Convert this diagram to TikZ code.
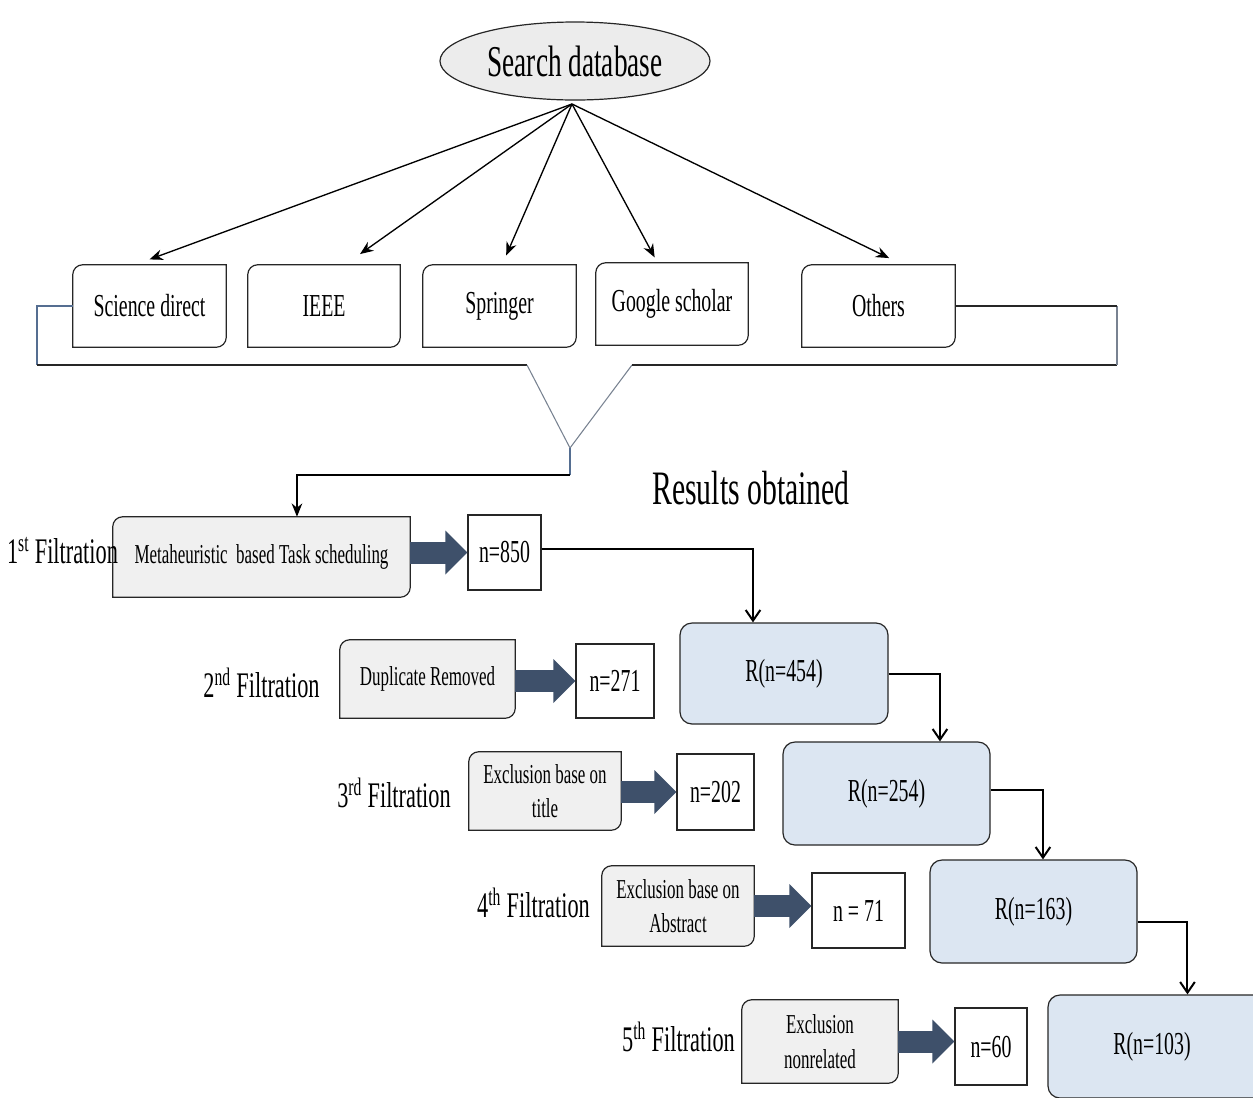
\documentclass[tikz,border=0pt]{standalone}
\usepackage{fontspec}
\setmainfont{Liberation Serif}[FakeStretch=0.62]
\usetikzlibrary{shapes.geometric,arrows.meta,backgrounds}
\definecolor{ellfill}{RGB}{236,236,236}
\definecolor{greyfill}{RGB}{240,240,240}
\definecolor{bluefill}{RGB}{220,230,242}
\definecolor{bigarrow}{RGB}{62,80,106}
\definecolor{bracketc}{RGB}{85,110,145}
\definecolor{vcol}{RGB}{120,130,145}
\newcommand{\diagframe}[2]{%
  \draw[boxline, fill=#2] ([xshift=7.5pt]#1.north west) -- (#1.north east)
    -- ([yshift=7.5pt]#1.south east) arc[start angle=0, end angle=-90, radius=7.5pt]
    -- (#1.south west) -- ([yshift=-7.5pt]#1.north west)
    arc[start angle=180, end angle=90, radius=7.5pt] -- cycle;}
\begin{document}
\begin{tikzpicture}[x=0.75pt,y=0.75pt,
  boxline/.style={draw=black!85, line width=0.9pt},
  ell/.style={ellipse, boxline, fill=ellfill, minimum width=202.5pt, minimum height=58.5pt, inner sep=0pt, font=\fontsize{33}{36}\selectfont},
  dbbox/.style={minimum height=61.5pt, inner sep=0pt, font=\fontsize{24}{28}\selectfont},
  gbox/.style={inner sep=0pt, align=center, font=\fontsize{20.5}{26}\selectfont},
  nbox/.style={boxline, fill=white, inner sep=0pt, font=\fontsize{24}{28}\selectfont},
  rbox/.style={boxline, fill=bluefill, rounded corners=9pt, inner sep=0pt, minimum width=155.25pt, minimum height=77.25pt, font=\fontsize{24}{28}\selectfont},
  fl/.style={inner sep=0pt, font=\fontsize{27}{30}\selectfont},
  thinarrow/.style={draw=black, line width=1pt, -{Stealth[length=10pt,width=8pt]}},
  bigarr/.style={draw=bigarrow, line width=16.5pt, -{Triangle[length=16.5pt,width=32pt]}},
  rconn/.style={draw=black, line width=1.5pt, -{Straight Barb[length=8pt,width=11pt]}},
  brk/.style={draw=bracketc, line width=0.8pt},
  vline/.style={draw=vcol, line width=0.8pt},
  hline/.style={draw=black!85, line width=1pt}
]
\useasboundingbox (0,0) rectangle (1253,-1097);

% search database
\node[ell] (search) at (575,-61) {Search database};
\coordinate (hub) at (572,-104);

% databases
\node[dbbox, minimum width=114.75pt] (sd) at (149.5,-306) {Science direct};
\node[dbbox, minimum width=114pt] (ieee) at (324,-306) {IEEE};
\node[dbbox, minimum width=114.75pt] (spr) at (499.5,-306) {Springer};
\node[dbbox, minimum width=114pt] (gs) at (672,-304) {Google scholar};
\node[dbbox, minimum width=114.75pt] (oth) at (878.5,-306) {Others};

\draw[thinarrow] (hub) -- ([yshift=4pt]sd.north);
\draw[thinarrow] (hub) -- ([xshift=27pt,yshift=8pt]ieee.north);
\draw[thinarrow] (hub) -- ([xshift=5pt,yshift=7pt]spr.north);
\draw[thinarrow] (hub) -- ([xshift=-13pt,yshift=4pt]gs.north);
\draw[thinarrow] (hub) -- ([xshift=8pt,yshift=5pt]oth.north);

% bracket and funnel
\coordinate (vtip) at (570,-448);
\coordinate (elbow) at (570,-475);
\draw[brk] (sd.west) -- (37,-306) -- (37,-365);
\draw[hline] (37,-365) -- (527,-365);
\draw[vline] (527,-365) -- (vtip) -- (632,-365);
\draw[hline] (632,-365) -- (1117,-365);
\draw[vline] (1117,-365) -- (1117,-306);
\draw[hline] (1117,-306) -- (oth.east);

% results title
\node[font=\fontsize{36}{40}\selectfont, inner sep=0pt] (res) at (751,-488) {Results obtained};

% grey boxes
\node[gbox, minimum width=222.75pt, minimum height=60pt] (meta) at (261.5,-557) {Metaheuristic\ \ based Task scheduling};
\node[gbox, minimum width=131.25pt, minimum height=58.5pt] (dup) at (427.5,-679) {Duplicate Removed};
\node[gbox, minimum width=114pt, minimum height=58.5pt] (ex1) at (545,-791) {Exclusion base on\\title};
\node[gbox, minimum width=114pt, minimum height=60pt] (ex2) at (678,-906) {Exclusion base on\\Abstract};
\node[gbox, minimum width=117pt, minimum height=62.25pt] (ex3) at (820,-1041.5) {Exclusion\\nonrelated};

\begin{pgfonlayer}{background}
\foreach \n in {sd,ieee,spr,gs,oth} {\diagframe{\n}{white}}
\foreach \n in {meta,dup,ex1,ex2,ex3} {\diagframe{\n}{greyfill}}
\end{pgfonlayer}

\draw[brk] (vtip) -- (elbow);
\draw[thinarrow] (elbow) -| ([xshift=26.6pt]meta.north);

% filtration labels
\node[fl] (f1) at (62.5,-551) {1\textsuperscript{st} Filtration};
\node[fl] (f2) at (261.5,-683) {2\textsuperscript{nd} Filtration};
\node[fl] (f3) at (394,-793) {3\textsuperscript{rd} Filtration};
\node[fl] (f4) at (533.5,-903) {4\textsuperscript{th} Filtration};
\node[fl] (f5) at (678.5,-1037) {5\textsuperscript{th} Filtration};

% n boxes
\node[nbox, minimum width=54.75pt, minimum height=56.25pt] (n1) at (504.5,-552.5) {n=850};
\node[nbox, minimum width=58.5pt, minimum height=55.5pt] (n2) at (615,-681) {n=271};
\node[nbox, minimum width=57.75pt, minimum height=57pt] (n3) at (715.5,-792) {n=202};
\node[nbox, minimum width=69.75pt, minimum height=56.25pt] (n4) at (858.5,-910.5) {n = 71};
\node[nbox, minimum width=54pt, minimum height=57.75pt] (n5) at (991,-1046.5) {n=60};

% big arrows
\draw[bigarr] (meta.east |- n1.west) -- (n1.west);
\draw[bigarr] (dup.east |- n2.west) -- (n2.west);
\draw[bigarr] (ex1.east |- n3.west) -- (n3.west);
\draw[bigarr] (ex2.east) -- (ex2.east -| n4.west);
\draw[bigarr] (ex3.east) -- (ex3.east -| n5.west);

% result boxes
\node[rbox, minimum width=156pt, minimum height=75.75pt] (r1) at (784,-673.5) {R(n=454)};
\node[rbox] (r2) at (886.5,-793.5) {R(n=254)};
\node[rbox] (r3) at (1033.5,-911.5) {R(n=163)};
\node[rbox, minimum width=165pt] (r4) at (1158,-1046.5) {\hspace*{-9pt}R(n=103)};

% connectors
\draw[rconn] ([yshift=3pt]n1.east) -| ([xshift=-23.25pt]r1.north);
\draw[rconn] (r1.east) -| ([xshift=40.1pt]r2.north);
\draw[rconn] ([yshift=2.5pt]r2.east) -| ([xshift=7.1pt]r3.north);
\draw[rconn] ([yshift=-7.5pt]r3.east) -| ([xshift=22.1pt]r4.north);
\end{tikzpicture}
\end{document}
